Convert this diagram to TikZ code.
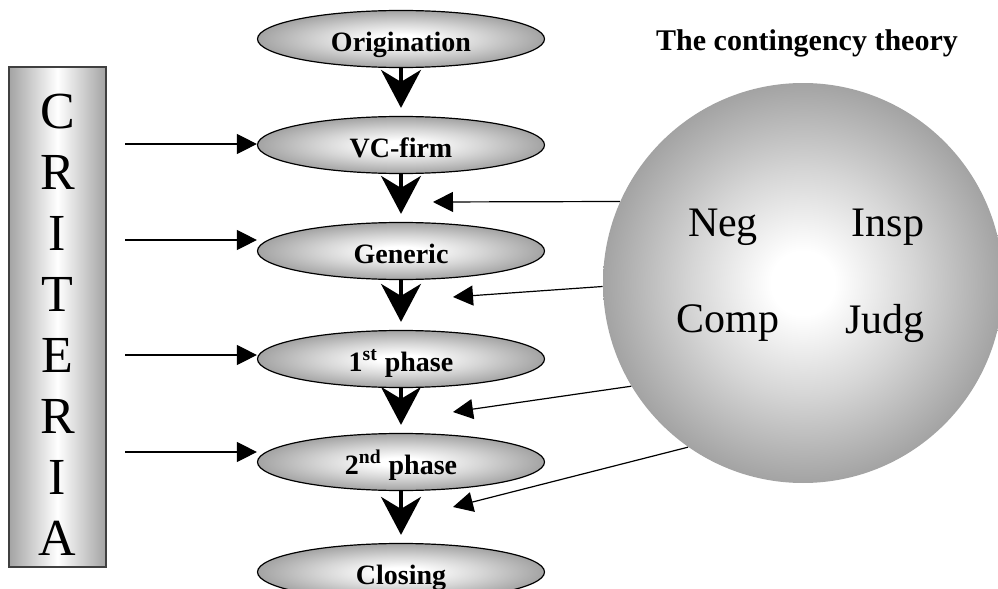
\documentclass[tikz,border=0pt]{standalone}
\usepackage{fontspec}
\setmainfont{Liberation Serif}
\usetikzlibrary{arrows.meta,calc,positioning,shapes.geometric}
\definecolor{shadegray}{HTML}{A3A3A3}
\definecolor{framegray}{HTML}{404040}
\pgfdeclareradialshading{glow}{\pgfpoint{0bp}{0bp}}{color(0bp)=(white); color(4bp)=(white); color(14bp)=(shadegray!45); color(25bp)=(shadegray); color(50bp)=(shadegray)}

\begin{document}
\begin{tikzpicture}[x=0.5pt,y=-0.5pt,
    stage/.style={ellipse,draw,line width=0.6pt,shading=glow,minimum width=143.5pt,minimum height=28.5pt,inner sep=0pt,
      text height=12pt,text depth=0pt,font=\bfseries\fontsize{14}{16}\selectfont},
    flow/.style={-{Stealth[length=19pt,width=20pt,inset=6pt]},line width=1.6pt,shorten >=4pt},
    feed/.style={-{Triangle[length=10pt,width=10pt]},line width=0.6pt}]
  \useasboundingbox (0,0) rectangle (998,589);
  \clip (0,0) rectangle (998,589);
  % criteria column
  \node[draw=framegray,line width=1pt,left color=shadegray,right color=shadegray,middle color=white,
        minimum width=48.5pt,minimum height=250pt,inner sep=0pt] (criteria) at (57.5,317) {};
  \foreach \l [count=\i from 0] in {C,R,I,T,E,R,I,A}
    \node[font=\fontsize{26}{26}\selectfont,inner sep=0pt] (crit\i) at (57.5,{112+60.9*\i}) {\l};
  % stages
  \foreach \n/\y/\t in {origination/39/Origination,vcfirm/145/VC-firm,generic/251/Generic,
      first/359/1\textsuperscript{st} phase,second/462/2\textsuperscript{nd} phase,closing/572/Closing}
    \node[stage] (\n) at (401,\y) {\t};
  \foreach \a/\b in {origination/vcfirm,vcfirm/generic,generic/first,first/second,second/closing}
    \draw[flow] (\a) -- (\b);
  \foreach \n/\y in {vcfirm/144,generic/240,first/355,second/452} {
    \coordinate (from\n) at (125,\y);
    \draw[feed] (from\n) -- (from\n -| \n.west);
  }
  % contingency theory
  \node[font=\bfseries\fontsize{15}{18}\selectfont] (title) at (807,43) {The contingency theory};
  \node[circle,shading=glow,minimum size=200pt,inner sep=0pt] (theory) at (803,283) {};
  \foreach \n/\p/\t in {neg/{(723,227)}/Neg,insp/{(888,227)}/Insp,comp/{(728,323)}/Comp,judg/{(885,323)}/Judg}
    \node[font=\fontsize{21}{24}\selectfont] (\n) at \p {\t};
  \foreach \a/\x/\y [count=\i] in {156/433/202,181/453/297,211/453/412,235/453/507} {
    \coordinate (tip\i) at (\x,\y);
    \draw[feed] (theory.\a) -- (tip\i);
  }
\end{tikzpicture}
\end{document}
